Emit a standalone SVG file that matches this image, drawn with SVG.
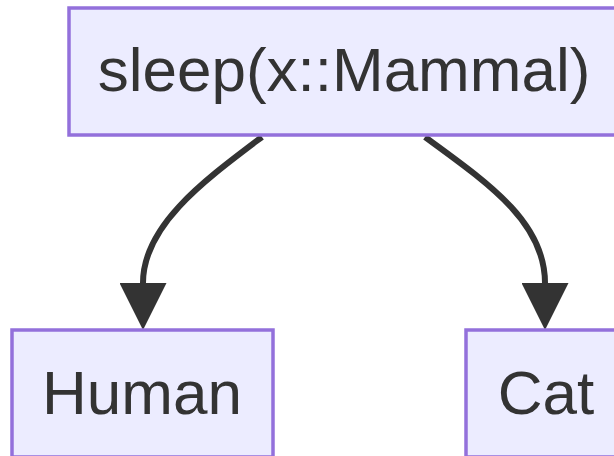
<svg xmlns="http://www.w3.org/2000/svg" width="614" height="456" viewBox="0 0 614 456">
  <style>
    .node rect { fill: #ECECFF; stroke: #9370DB; stroke-width: 3.5; }
    .node text { font-family: "Liberation Sans", Arial, sans-serif; font-size: 62px; fill: #333333; text-anchor: middle; }
    .edge { fill: none; stroke: #333333; stroke-width: 6; }
  </style>
  <defs>
    <marker id="arrowhead" viewBox="0 0 10 10" refX="0" refY="5" markerUnits="userSpaceOnUse" markerWidth="47" markerHeight="47" orient="auto">
      <path d="M0,0 L10,5 L0,10 z" fill="#333333"/>
    </marker>
  </defs>
  <rect width="614" height="456" fill="#ffffff"/>
  <g id="connectors">
    <path class="edge" d="M262,137 C205,180 143,225 143,283" marker-end="url(#arrowhead)"/>
    <path class="edge" d="M425,137 C488,183 545,222 545,283" marker-end="url(#arrowhead)"/>
  </g>
  <g id="sleep" class="node">
    <rect x="69" y="8" width="551" height="127"/>
    <text x="344" y="91">sleep(x::Mammal)</text>
  </g>
  <g id="human" class="node">
    <rect x="12" y="330" width="261" height="127"/>
    <text x="142" y="414">Human</text>
  </g>
  <g id="cat" class="node">
    <rect x="466" y="330" width="160" height="127"/>
    <text x="546" y="414">Cat</text>
  </g>
</svg>
